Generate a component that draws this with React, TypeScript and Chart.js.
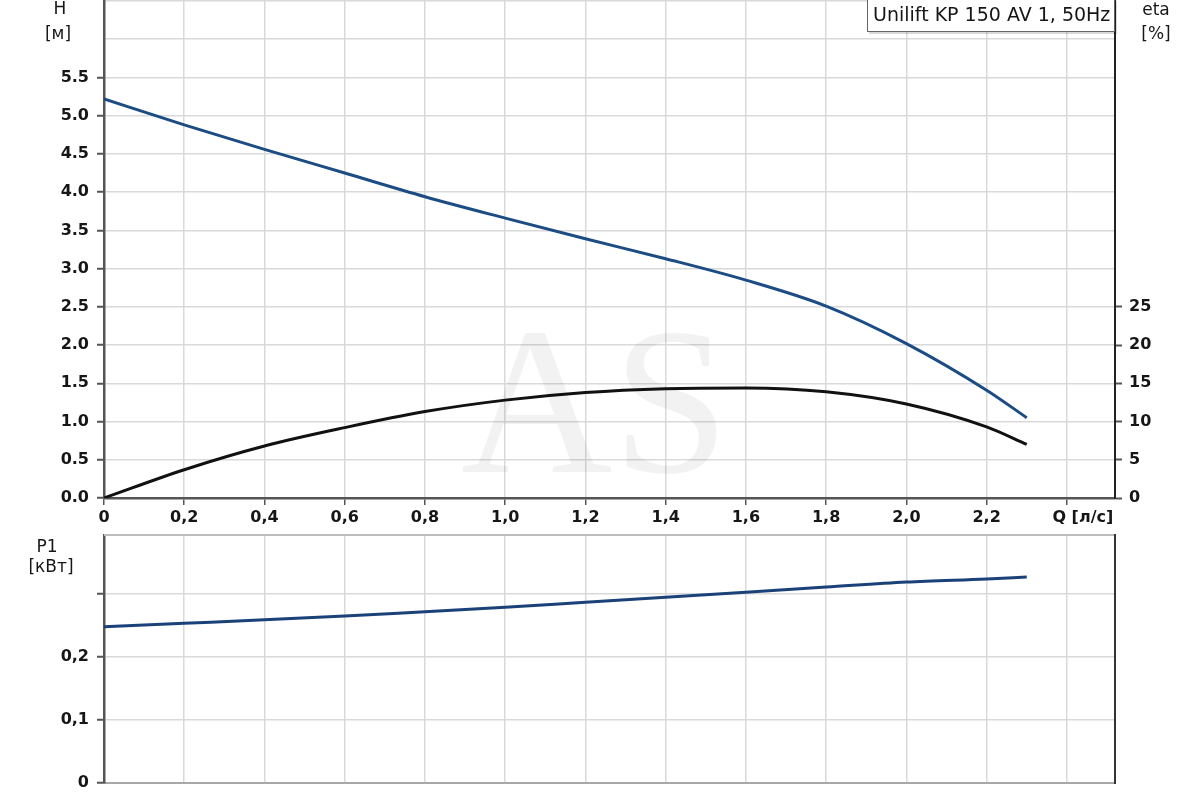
import React, { useEffect, useRef } from "react";
import { Chart, registerables } from "chart.js";

Chart.register(...registerables);

// ---- data ----
const flowQ = [0, 0.2, 0.4, 0.6, 0.8, 1.0, 1.2, 1.4, 1.6, 1.8, 2.0, 2.2, 2.3];
const headH = [5.22, 4.88, 4.56, 4.25, 3.94, 3.66, 3.39, 3.13, 2.85, 2.51, 2.02, 1.41, 1.05];
const effEta = [0, 3.7, 6.8, 9.2, 11.3, 12.8, 13.8, 14.3, 14.4, 13.9, 12.3, 9.3, 7.0];
const powerP1 = [0.248, 0.2535, 0.259, 0.265, 0.272, 0.279, 0.287, 0.295, 0.303, 0.311, 0.319, 0.324, 0.327];

const qTickLabels = ["0", "0,2", "0,4", "0,6", "0,8", "1,0", "1,2", "1,4", "1,6", "1,8", "2,0", "2,2", ""];
const hTickLabels = ["0.0", "0.5", "1.0", "1.5", "2.0", "2.5", "3.0", "3.5", "4.0", "4.5", "5.0", "5.5", "", ""];
const etaTickLabels = ["0", "5", "10", "15", "20", "25"];
const p1TickLabels = ["0", "0,1", "0,2", ""];

const legendText = "Unilift KP 150 AV 1, 50Hz";
const qTitle = "Q [л/с]";
const hTitle = ["H", "[м]"];
const etaTitle = ["eta", "[%]"];
const p1Title = ["P1", "[кВт]"];
const watermark = "AS";

const FONT = '"DejaVu Sans", sans-serif';
const GRID = "#d9d9d9";
const AXIS = "#555555";
const TEXT = "#161616";
const BLUE = "#1c4c84";
const TICKFONT = { family: FONT, size: 16, weight: "bold" as const };

const pts = (ys: number[]) => flowQ.map((q, i) => ({ x: q, y: ys[i] }));

const fixV = (w: number) => (s: any) => {
  s.width = w;
  s.paddingTop = 0;
  s.paddingBottom = 0;
};
const fixH = (h: number) => (s: any) => {
  s.height = h;
  s.paddingLeft = 0;
  s.paddingRight = 0;
};

export default function App() {
  const topRef = useRef<HTMLCanvasElement | null>(null);
  const botRef = useRef<HTMLCanvasElement | null>(null);

  useEffect(() => {
    const topDecor = {
      id: "topDecor",
      beforeDatasetsDraw(chart: any) {
        const { ctx, chartArea } = chart;
        ctx.save();
        ctx.font = '210px "Liberation Serif", serif';
        ctx.fillStyle = "rgba(0,0,0,0.05)";
        ctx.textAlign = "center";
        ctx.textBaseline = "alphabetic";
        ctx.fillText(watermark, chartArea.left + 491, chartArea.bottom - 26);
        ctx.restore();
      },
      afterDraw(chart: any) {
        const { ctx, chartArea } = chart;
        ctx.save();
        ctx.fillStyle = TEXT;
        ctx.font = `17px ${FONT}`;
        ctx.textAlign = "center";
        ctx.textBaseline = "middle";
        ctx.fillText(hTitle[0], chartArea.left - 44, 10);
        ctx.fillText(hTitle[1], chartArea.left - 46, 35);
        ctx.fillText(etaTitle[0], chartArea.right + 41, 11);
        ctx.fillText(etaTitle[1], chartArea.right + 41, 35);
        const xs = chart.scales.x;
        ctx.font = `bold 16px ${FONT}`;
        ctx.fillText(qTitle, xs.getPixelForValue(2.4) + 16, chartArea.bottom + 20);
        // legend box
        const bx = chartArea.right - 248;
        const by = -1;
        const bw = 248;
        const bh = 33;
        ctx.fillStyle = "rgba(0,0,0,0.15)";
        ctx.fillRect(bx + 2, by + 2, bw, bh);
        ctx.fillStyle = "#ffffff";
        ctx.fillRect(bx, by, bw, bh);
        ctx.strokeStyle = "#666";
        ctx.lineWidth = 1;
        ctx.strokeRect(bx + 0.5, by + 0.5, bw - 1, bh - 1);
        ctx.fillStyle = TEXT;
        ctx.font = `19px ${FONT}`;
        ctx.textAlign = "left";
        ctx.fillText(legendText, bx + 6, 16);
        ctx.restore();
      },
    };

    const top = new Chart(topRef.current as HTMLCanvasElement, {
      type: "line",
      data: {
        datasets: [
          {
            label: "H",
            data: pts(headH),
            borderColor: BLUE,
            borderWidth: 3,
            pointRadius: 0,
            cubicInterpolationMode: "monotone",
            yAxisID: "y",
          },
          {
            label: "eta",
            data: pts(effEta),
            borderColor: "#111111",
            borderWidth: 3,
            pointRadius: 0,
            cubicInterpolationMode: "monotone",
            yAxisID: "y1",
          },
        ],
      },
      options: {
        animation: false,
        responsive: false,
        layout: { padding: { top: 1, left: 0, right: 0, bottom: 0 } },
        plugins: { legend: { display: false }, tooltip: { enabled: false } },
        scales: {
          x: {
            type: "linear",
            min: 0,
            max: 2.52,
            afterFit: fixH(37),
            grid: { color: GRID, lineWidth: 1.5, tickLength: 7, tickColor: AXIS, tickWidth: 1.5 },
            border: { color: AXIS, width: 2.5 },
            ticks: {
              stepSize: 0.2,
              includeBounds: false,
              autoSkip: false,
              maxRotation: 0,
              padding: 3,
              color: TEXT,
              font: TICKFONT,
              callback: (_v: any, i: number) => qTickLabels[i] ?? "",
            },
          },
          y: {
            type: "linear",
            position: "left",
            min: 0,
            max: 6.5,
            afterFit: fixV(104),
            grid: {
              color: GRID,
              lineWidth: 1.5,
              tickLength: 7,
              tickWidth: 2,
              tickColor: (c: any) => (c.tick && c.tick.value > 5.51 ? "rgba(0,0,0,0)" : AXIS),
            },
            border: { color: AXIS, width: 2.5 },
            ticks: {
              stepSize: 0.5,
              autoSkip: false,
              padding: 8,
              color: TEXT,
              font: TICKFONT,
              callback: (_v: any, i: number) => hTickLabels[i] ?? "",
            },
          },
          y1: {
            type: "linear",
            position: "right",
            min: 0,
            max: 65,
            afterFit: fixV(85),
            grid: {
              drawOnChartArea: false,
              tickLength: 7,
              tickWidth: 2,
              tickColor: (c: any) => (c.tick && c.tick.value > 25.1 ? "rgba(0,0,0,0)" : AXIS),
            },
            border: { color: "#222", width: 2 },
            ticks: {
              stepSize: 5,
              autoSkip: false,
              padding: 7,
              color: TEXT,
              font: TICKFONT,
              callback: (_v: any, i: number) => etaTickLabels[i] ?? "",
            },
          },
        },
      },
      plugins: [topDecor],
    } as any);

    const botDecor = {
      id: "botDecor",
      afterDraw(chart: any) {
        const { ctx, chartArea } = chart;
        ctx.save();
        ctx.strokeStyle = "#bdbdbd";
        ctx.lineWidth = 2;
        ctx.beginPath();
        ctx.moveTo(chartArea.left, chartArea.top);
        ctx.lineTo(chartArea.right, chartArea.top);
        ctx.stroke();
        ctx.strokeStyle = "#333";
        ctx.beginPath();
        ctx.moveTo(chartArea.right, chartArea.top - 1);
        ctx.lineTo(chartArea.right, chartArea.bottom + 1);
        ctx.stroke();
        ctx.fillStyle = TEXT;
        ctx.font = `17px ${FONT}`;
        ctx.textAlign = "center";
        ctx.textBaseline = "middle";
        ctx.fillText(p1Title[0], chartArea.left - 57, 18);
        ctx.fillText(p1Title[1], chartArea.left - 53, 38);
        ctx.restore();
      },
    };

    const bot = new Chart(botRef.current as HTMLCanvasElement, {
      type: "line",
      data: {
        datasets: [
          {
            label: "P1",
            data: pts(powerP1),
            borderColor: "#1a4278",
            borderWidth: 3,
            pointRadius: 0,
            cubicInterpolationMode: "monotone",
          },
        ],
      },
      options: {
        animation: false,
        responsive: false,
        layout: { padding: { top: 5, left: 0, right: 85, bottom: 0 } },
        plugins: { legend: { display: false }, tooltip: { enabled: false } },
        scales: {
          x: {
            type: "linear",
            min: 0,
            max: 2.52,
            afterFit: fixH(17),
            grid: { color: GRID, lineWidth: 1.5, drawTicks: false },
            border: { color: "#a8a8a8", width: 2 },
            ticks: {
              display: false,
              stepSize: 0.2,
              includeBounds: false,
              autoSkip: false,
            },
          },
          y: {
            type: "linear",
            position: "left",
            min: 0,
            max: 0.3937,
            afterFit: fixV(104),
            grid: { color: GRID, lineWidth: 1.5, tickLength: 7, tickWidth: 2, tickColor: AXIS },
            border: { color: AXIS, width: 2.5 },
            ticks: {
              stepSize: 0.1,
              includeBounds: false,
              autoSkip: false,
              padding: 8,
              color: TEXT,
              font: TICKFONT,
              callback: (_v: any, i: number) => p1TickLabels[i] ?? "",
            },
          },
        },
      },
      plugins: [botDecor],
    } as any);

    return () => {
      top.destroy();
      bot.destroy();
    };
  }, []);

  return (
    <div
      style={{
        position: "absolute",
        left: 0,
        top: 0,
        width: 1200,
        height: 800,
        background: "#ffffff",
        overflow: "hidden",
      }}
    >
      <canvas
        ref={topRef}
        width={1200}
        height={535}
        style={{ position: "absolute", left: 0, top: 0, width: 1200, height: 535 }}
      />
      <canvas
        ref={botRef}
        width={1200}
        height={270}
        style={{ position: "absolute", left: 0, top: 530, width: 1200, height: 270 }}
      />
    </div>
  );
}
